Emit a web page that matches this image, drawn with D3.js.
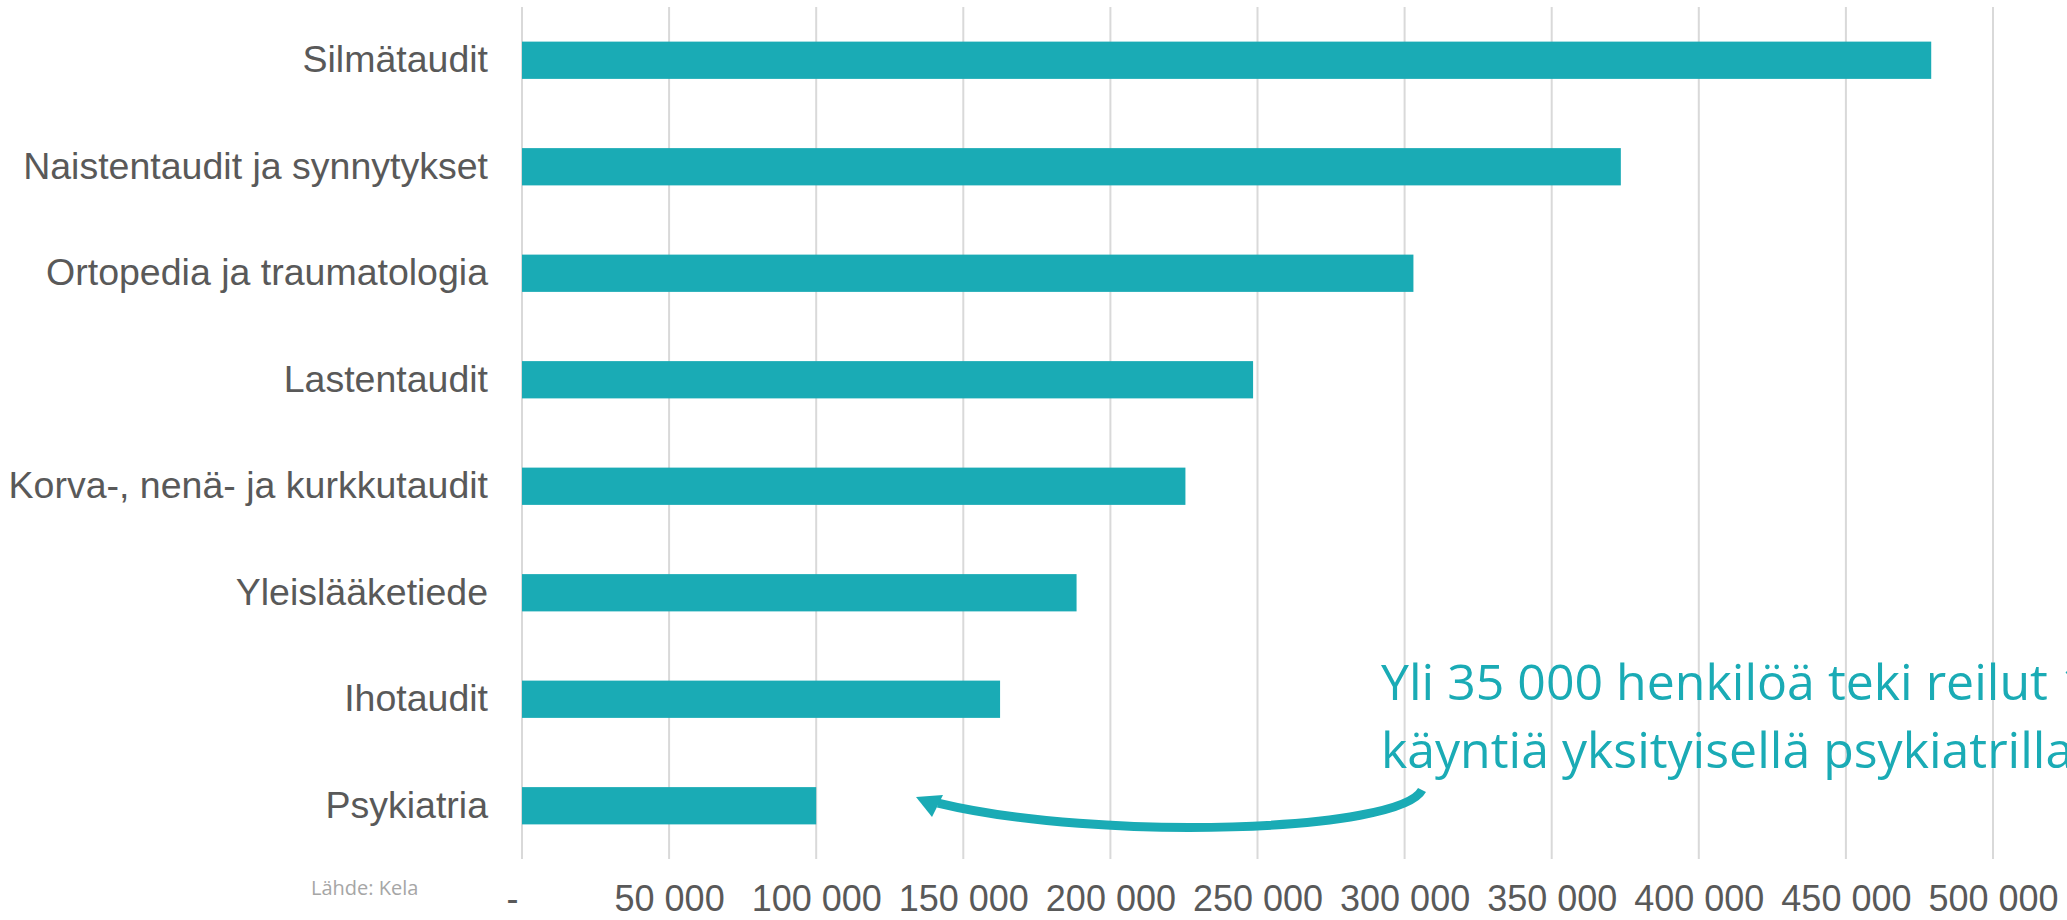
<!DOCTYPE html>
<html>
<head>
<meta charset="utf-8">
<script src="https://cdn.jsdelivr.net/npm/d3@7"></script>
<style>
  body { margin: 0; background: #fff; overflow: hidden; }
  svg { display: block; }
</style>
</head>
<body>
<script>
// erikoisalat ja käynnit (Kela)
var categories = ["Silmätaudit", "Naistentaudit ja synnytykset", "Ortopedia ja traumatologia",
    "Lastentaudit", "Korva-, nenä- ja kurkkutaudit", "Yleislääketiede", "Ihotaudit", "Psykiatria"];
var visits = [479000, 373500, 303000, 248500, 225500, 188500, 162500, 100000];
var tickValues = [0, 50000, 100000, 150000, 200000, 250000, 300000, 350000, 400000, 450000, 500000];
var noteLines = ["Yli 35 000 henkilöä teki reilut 100 000", "käyntiä yksityisellä psykiatrilla."];
var sourceText = "Lähde: Kela";

window.onload = drawChart();

function drawChart(){

    var width = 2067,
        height = 920;

    var teal = "#1aabb5",
        grey = "#595959";

    var svg = d3.select("body")
        .append("svg")
        .attr("width", width)
        .attr("height", height);

    //scales
    var x = d3.scaleLinear()
        .domain([0, 500000])
        .range([522, 1993]);

    var y = d3.scaleBand()
        .domain(categories)
        .range([7, 859])
        .paddingInner(0.65)
        .paddingOuter(0.325);

    //vertical gridlines
    svg.selectAll(".grid")
        .data(tickValues)
        .enter()
        .append("line")
        .attr("class", "grid")
        .attr("x1", function(d){ return x(d); })
        .attr("x2", function(d){ return x(d); })
        .attr("y1", 7)
        .attr("y2", 859)
        .attr("stroke", "#d9d9d9")
        .attr("stroke-width", 2);

    //bars
    svg.selectAll(".bar")
        .data(visits)
        .enter()
        .append("rect")
        .attr("class", "bar")
        .attr("x", x(0))
        .attr("y", function(d, i){ return y(categories[i]); })
        .attr("width", function(d){ return x(d) - x(0); })
        .attr("height", y.bandwidth())
        .attr("fill", teal);

    //x axis labels
    var fmt = function(d){
        return d === 0 ? "-" : d3.format(",")(d).replace(/,/g, " ");
    };
    var xAxis = svg.append("g")
        .attr("transform", "translate(0,911)")
        .call(d3.axisBottom(x).tickValues(tickValues).tickSize(0).tickPadding(0).tickFormat(fmt));
    xAxis.select(".domain").remove();
    xAxis.selectAll("text")
        .attr("dy", 0)
        .attr("dx", function(d){ return d === 0 ? -10 : 0; })
        .attr("fill", grey)
        .style("font-family", "'Liberation Sans', Arial, sans-serif")
        .style("font-size", "36px");

    //category labels
    var yAxis = svg.append("g")
        .attr("transform", "translate(488,0)")
        .call(d3.axisLeft(y).tickSize(0).tickPadding(0));
    yAxis.select(".domain").remove();
    yAxis.selectAll("text")
        .attr("fill", grey)
        .style("font-family", "'Liberation Sans', Arial, sans-serif")
        .style("font-size", "37.5px");

    //source
    svg.append("text")
        .attr("x", 311)
        .attr("y", 895)
        .attr("fill", "#a6a6a6")
        .style("font-family", "'Open Sans', sans-serif")
        .style("font-size", "20px")
        .text(sourceText);

    //annotation
    svg.selectAll(".note")
        .data(noteLines)
        .enter()
        .append("text")
        .attr("class", "note")
        .attr("x", 1381)
        .attr("y", function(d, i){ return 700 + i * 68; })
        .attr("fill", teal)
        .style("font-family", "'Open Sans', sans-serif")
        .style("font-size", "50px")
        .text(function(d){ return d; });

    //curved arrow pointing at the psykiatria bar
    svg.append("path")
        .attr("d", "M1422,790 C1400,832 1100,842 938,803")
        .attr("fill", "none")
        .attr("stroke", teal)
        .attr("stroke-width", 9);
    svg.append("path")
        .attr("d", "M916,797 L943,795 L932,817 Z")
        .attr("fill", teal);
}
</script>
</body>
</html>
